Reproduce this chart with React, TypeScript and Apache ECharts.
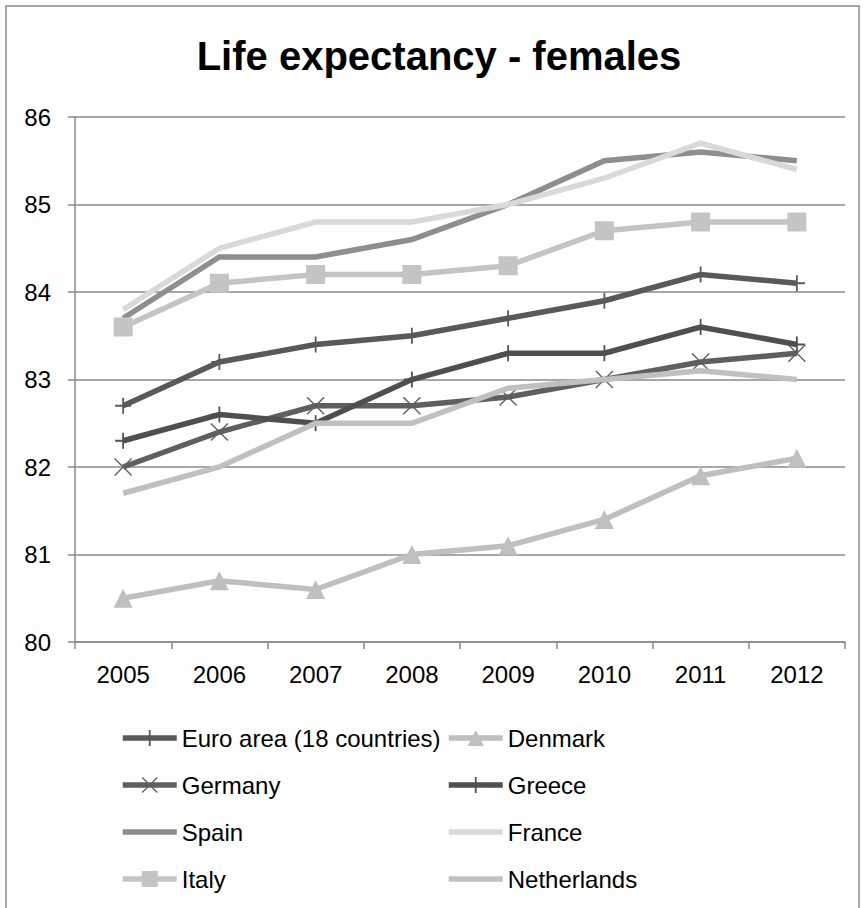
import React, { useEffect, useRef } from "react";
import * as echarts from "echarts";

const years = ["2005", "2006", "2007", "2008", "2009", "2010", "2011", "2012"];
const euroArea = [82.7, 83.2, 83.4, 83.5, 83.7, 83.9, 84.2, 84.1];
const denmark = [80.5, 80.7, 80.6, 81.0, 81.1, 81.4, 81.9, 82.1];
const germany = [82.0, 82.4, 82.7, 82.7, 82.8, 83.0, 83.2, 83.3];
const greece = [82.3, 82.6, 82.5, 83.0, 83.3, 83.3, 83.6, 83.4];
const spain = [83.7, 84.4, 84.4, 84.6, 85.0, 85.5, 85.6, 85.5];
const france = [83.8, 84.5, 84.8, 84.8, 85.0, 85.3, 85.7, 85.4];
const italy = [83.6, 84.1, 84.2, 84.2, 84.3, 84.7, 84.8, 84.8];
const netherlands = [81.7, 82.0, 82.5, 82.5, 82.9, 83.0, 83.1, 83.0];

const titleText = "Life expectancy - females";
const FONT = "'Liberation Sans', Arial, sans-serif";

const PLUS =
  "path://M-1,-9 L1,-9 L1,-1 L9,-1 L9,1 L1,1 L1,9 L-1,9 L-1,1 L-9,1 L-9,-1 L-1,-1 Z";
const CROSS =
  "path://M-9,-8 L-8,-9 L0,-1 L8,-9 L9,-8 L1,0 L9,8 L8,9 L0,1 L-8,9 L-9,8 L-1,0 Z";

const LINE_W = 5.5;

function mk(name: string, data: number[], color: string, symbol: string, size: number, z: number) {
  return {
    name,
    type: "line",
    data,
    z,
    symbol,
    symbolSize: size,
    showSymbol: symbol !== "none",
    lineStyle: { color, width: LINE_W, cap: "butt", join: "miter" },
    itemStyle: { color, borderWidth: 0 },
    emphasis: { disabled: true },
  };
}

const noMark = (name: string) => ({ name, itemStyle: { opacity: 0 } });

export default function App() {
  const ref = useRef<HTMLDivElement>(null);
  useEffect(() => {
    if (!ref.current) return;
    const chart = echarts.init(ref.current, null, { renderer: "svg" });
    const legendCommon = {
      orient: "vertical",
      itemWidth: 54,
      itemHeight: 20,
      itemGap: 23,
      lineStyle: { width: LINE_W },
      textStyle: { fontFamily: FONT, fontSize: 24, color: "#000", lineHeight: 24 },
      selectedMode: false,
    };
    chart.setOption({
      animation: false,
      backgroundColor: "#fff",
      graphic: [
        {
          type: "rect",
          shape: { x: 6, y: 6, width: 853, height: 950 },
          style: { fill: "none", stroke: "#8a8a8a", lineWidth: 1.5 },
          silent: true,
        },
        {
          type: "text",
          x: 439,
          y: 36,
          style: {
            text: titleText,
            font: `bold 40px ${FONT}`,
            fill: "#000",
            textAlign: "center",
            textVerticalAlign: "top",
          },
        },
      ],
      grid: { left: 75, right: 22, top: 117, bottom: 266, containLabel: false },
      xAxis: {
        type: "category",
        data: years,
        boundaryGap: true,
        axisLine: { lineStyle: { color: "#8a8a8a", width: 1.5 } },
        axisTick: { show: true, length: 7, lineStyle: { color: "#8a8a8a", width: 1.5 } },
        axisLabel: { fontFamily: FONT, fontSize: 24, color: "#000", margin: 20 },
      },
      yAxis: {
        type: "value",
        min: 80,
        max: 86,
        interval: 1,
        axisLine: { show: true, lineStyle: { color: "#8a8a8a", width: 1.5 } },
        axisTick: { show: true, length: 7, lineStyle: { color: "#8a8a8a", width: 1.5 } },
        splitLine: { lineStyle: { color: "#8a8a8a", width: 1.5 } },
        axisLabel: { fontFamily: FONT, fontSize: 24, color: "#000", margin: 24 },
      },
      legend: [
        {
          ...legendCommon,
          left: 115,
          top: 721,
          data: ["Euro area (18 countries)", "Germany", noMark("Spain"), "Italy"],
        },
        {
          ...legendCommon,
          left: 441,
          top: 721,
          data: ["Denmark", "Greece", noMark("France"), noMark("Netherlands")],
        },
      ],
      series: [
        mk("Euro area (18 countries)", euroArea, "#595959", PLUS, 16, 2),
        mk("Denmark", denmark, "#bfbfbf", "triangle", 19, 3),
        mk("Germany", germany, "#5f5f5f", CROSS, 18, 4),
        mk("Greece", greece, "#4f4f4f", PLUS, 16, 5),
        mk("Spain", spain, "#8e8e8e", "none", 1, 6),
        mk("France", france, "#d9d9d9", "none", 1, 7),
        mk("Italy", italy, "#c4c4c4", "rect", 19, 8),
        mk("Netherlands", netherlands, "#c0c0c0", "none", 1, 9),
      ],
    });
    return () => chart.dispose();
  }, []);
  return (
    <div
      ref={ref}
      style={{ position: "fixed", left: 0, top: 0, width: 867, height: 908, background: "#fff" }}
    />
  );
}
